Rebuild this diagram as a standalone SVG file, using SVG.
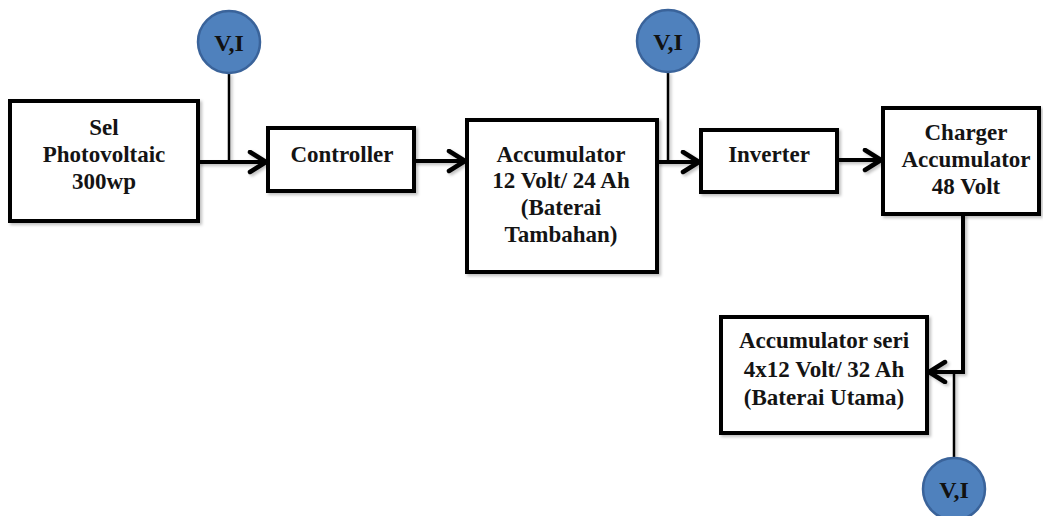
<svg xmlns="http://www.w3.org/2000/svg" width="1043" height="516" viewBox="0 0 1043 516">
<style>
.box{fill:#fff;stroke:#000;stroke-width:4}
.t{font-family:'Liberation Serif','Times New Roman','DejaVu Serif',serif;font-weight:bold;font-size:23px;fill:#141414;text-anchor:middle}
.vi{font-family:'Liberation Serif','Times New Roman','DejaVu Serif',serif;font-weight:bold;font-size:24px;fill:#111;text-anchor:middle}
.meter{fill:#4F81BD;stroke:#3A639A;stroke-width:2.5}
.wire{fill:none;stroke:#000;stroke-width:4}
.tap{fill:none;stroke:#000;stroke-width:2.5}
</style>
<defs>
<marker id="arr" markerUnits="userSpaceOnUse" markerWidth="24" markerHeight="26" refX="19" refY="12" orient="auto">
<path d="M3,2 L19,12 L3,22" fill="none" stroke="#000" stroke-width="4.5" stroke-linecap="round" stroke-linejoin="round"/>
</marker>
<filter id="sh" x="-10%" y="-10%" width="130%" height="130%">
<feDropShadow dx="2" dy="2" stdDeviation="1.5" flood-color="#000" flood-opacity="0.25"/>
</filter>
</defs>
<g id="connectors" filter="url(#sh)">
<line class="tap" x1="229" y1="73" x2="229" y2="162"/>
<line class="tap" x1="668" y1="72" x2="668" y2="162"/>
<line class="tap" x1="954" y1="372" x2="954" y2="458"/>
<line class="wire" x1="198" y1="162" x2="266" y2="162" marker-end="url(#arr)"/>
<line class="wire" x1="414" y1="161" x2="465" y2="161" marker-end="url(#arr)"/>
<line class="wire" x1="657" y1="162" x2="699" y2="162" marker-end="url(#arr)"/>
<line class="wire" x1="837" y1="160" x2="881" y2="160" marker-end="url(#arr)"/>
<path class="wire" d="M963,214 V372 H929" marker-end="url(#arr)"/>
</g>
<g id="pv">
<rect class="box" x="10" y="101" width="188" height="120" filter="url(#sh)"/>
<text class="t" x="104" y="135">Sel</text>
<text class="t" x="104" y="162">Photovoltaic</text>
<text class="t" x="104" y="189">300wp</text>
</g>
<g id="controller">
<rect class="box" x="268" y="128" width="146" height="63" filter="url(#sh)"/>
<text class="t" x="342" y="162">Controller</text>
</g>
<g id="accumulator">
<rect class="box" x="467" y="120" width="190" height="152" filter="url(#sh)"/>
<text class="t" x="561" y="162">Accumulator</text>
<text class="t" x="561" y="188">12 Volt/ 24 Ah</text>
<text class="t" x="561" y="215">(Baterai</text>
<text class="t" x="561" y="242">Tambahan)</text>
</g>
<g id="inverter">
<rect class="box" x="701" y="130" width="136" height="62" filter="url(#sh)"/>
<text class="t" x="769" y="162">Inverter</text>
</g>
<g id="charger">
<rect class="box" x="883" y="108" width="156" height="106" filter="url(#sh)"/>
<text class="t" x="966" y="140">Charger</text>
<text class="t" x="966" y="167">Accumulator</text>
<text class="t" x="966" y="194">48 Volt</text>
</g>
<g id="main-battery">
<rect class="box" x="721" y="317" width="206" height="116" filter="url(#sh)"/>
<text class="t" x="824" y="348">Accumulator seri</text>
<text class="t" x="824" y="377">4x12 Volt/ 32 Ah</text>
<text class="t" x="824" y="405">(Baterai Utama)</text>
</g>
<g id="meter1">
<circle class="meter" cx="229" cy="42" r="31"/>
<text class="vi" x="229" y="51">V,I</text>
</g>
<g id="meter2">
<circle class="meter" cx="668" cy="41" r="31"/>
<text class="vi" x="668" y="50">V,I</text>
</g>
<g id="meter3">
<circle class="meter" cx="954" cy="489" r="31"/>
<text class="vi" x="954" y="498">V,I</text>
</g>
</svg>
